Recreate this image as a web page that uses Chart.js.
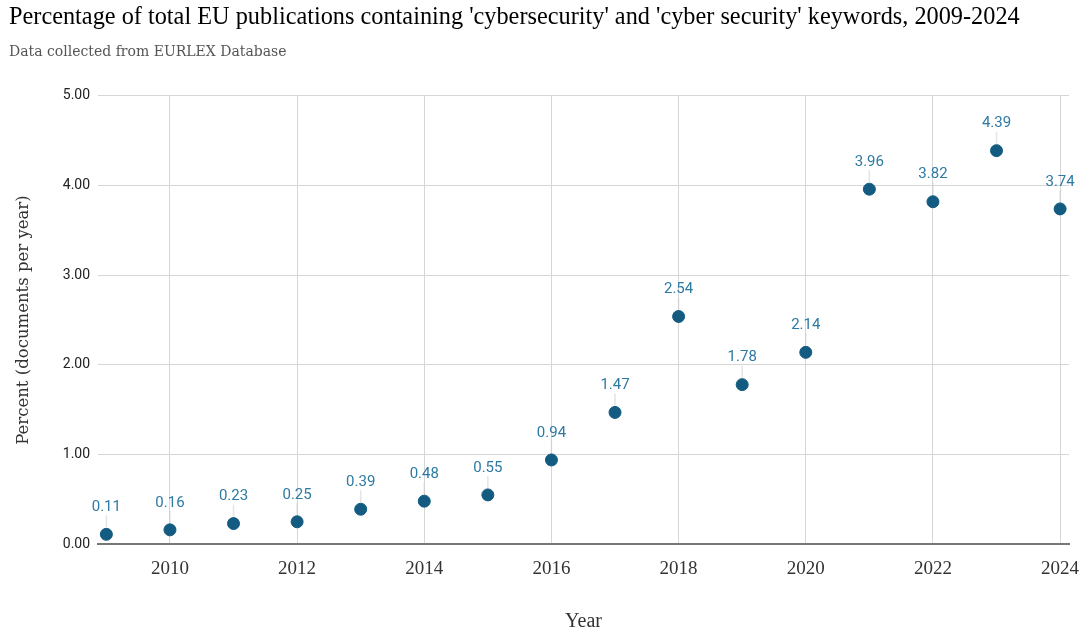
<!DOCTYPE html>
<html>
<head>
<meta charset="utf-8">
<script src="https://cdn.jsdelivr.net/npm/chart.js@4.4.1/dist/chart.umd.min.js"></script>
<style>
  html, body { margin: 0; padding: 0; background: #ffffff; }
  #wrap { width: 1082px; height: 630px; position: relative; }
</style>
</head>
<body>
<div id="wrap"><canvas id="c" width="1082" height="630"></canvas></div>
<script>
// Yearly share of EU publications mentioning the keywords
const years = [2009, 2010, 2011, 2012, 2013, 2014, 2015, 2016, 2017, 2018, 2019, 2020, 2021, 2022, 2023, 2024];
const percents = [0.11, 0.16, 0.23, 0.25, 0.39, 0.48, 0.55, 0.94, 1.47, 2.54, 1.78, 2.14, 3.96, 3.82, 4.39, 3.74];
const xTickYears = [2010, 2012, 2014, 2016, 2018, 2020, 2022, 2024];
const yTickValues = [0, 1, 2, 3, 4, 5];

const titleText = "Percentage of total EU publications containing 'cybersecurity' and 'cyber security' keywords, 2009-2024";
const subtitleText = "Data collected from EURLEX Database";

const pointColor = '#135b80';
const labelColor = '#2d7aa3';

// Value labels above each point, joined to the point by a faint leader line
const valueLabels = {
  id: 'valueLabels',
  afterDatasetsDraw(chart) {
    const ctx = chart.ctx;
    const meta = chart.getDatasetMeta(0);
    const data = chart.data.datasets[0].data;
    ctx.save();
    meta.data.forEach((pt, i) => {
      const x = pt.x, y = pt.y;
      ctx.strokeStyle = 'rgba(205,205,205,0.55)';
      ctx.lineWidth = 1.5;
      ctx.beginPath();
      ctx.moveTo(x, y - 7);
      ctx.lineTo(x, y - 19);
      ctx.stroke();
      ctx.fillStyle = labelColor;
      ctx.font = '15px Roboto';
      ctx.textAlign = 'center';
      ctx.textBaseline = 'middle';
      ctx.fillText(data[i].y.toFixed(2), x, y - 27);
    });
    ctx.restore();
  }
};

new Chart(document.getElementById('c'), {
  type: 'scatter',
  data: {
    datasets: [{
      data: years.map((yr, i) => ({ x: yr, y: percents[i] })),
      backgroundColor: pointColor,
      borderColor: pointColor,
      pointRadius: 6,
      pointHoverRadius: 6
    }]
  },
  options: {
    responsive: false,
    animation: false,
    devicePixelRatio: 1,
    layout: { padding: { left: 9, right: 13, top: 2, bottom: -4 } },
    plugins: {
      legend: { display: false },
      tooltip: { enabled: false },
      title: {
        display: true,
        text: titleText,
        align: 'start',
        color: '#000000',
        font: { family: 'Liberation Serif', size: 24.3, weight: 'normal' },
        padding: { top: 1, bottom: 12 }
      },
      subtitle: {
        display: true,
        text: subtitleText,
        align: 'start',
        color: '#555555',
        font: { family: 'DejaVu Serif', size: 14, weight: 'normal' },
        padding: { top: 0, bottom: 35 }
      }
    },
    scales: {
      x: {
        type: 'linear',
        min: 2008.87,
        max: 2024.14,
        afterBuildTicks(scale) { scale.ticks = xTickYears.map(v => ({ value: v })); },
        // the last year label may run into the right margin
        afterFit(scale) { scale.paddingLeft = 0; scale.paddingRight = 0; },
        grid: { color: '#d6d6d6', lineWidth: 1, drawTicks: false },
        border: { display: true, color: '#777777', width: 2 },
        ticks: {
          color: '#333333',
          font: { family: 'Liberation Serif', size: 19 },
          padding: 13,
          maxRotation: 0,
          callback: v => String(v)
        },
        title: {
          display: true,
          text: 'Year',
          color: '#333333',
          font: { family: 'Liberation Serif', size: 20 },
          padding: { top: 17, bottom: 0 }
        }
      },
      y: {
        min: 0,
        max: 5,
        afterBuildTicks(scale) { scale.ticks = yTickValues.map(v => ({ value: v })); },
        grid: { color: '#d6d6d6', lineWidth: 1, drawTicks: false },
        border: { display: false },
        ticks: {
          color: '#222222',
          font: { family: 'Roboto', size: 14 },
          padding: 8,
          callback: v => Number(v).toFixed(2)
        },
        title: {
          display: true,
          text: 'Percent (documents per year)',
          color: '#333333',
          font: { family: 'DejaVu Serif', size: 16.5 },
          padding: { top: 5, bottom: 21 }
        }
      }
    }
  },
  plugins: [valueLabels]
});
</script>
</body>
</html>
